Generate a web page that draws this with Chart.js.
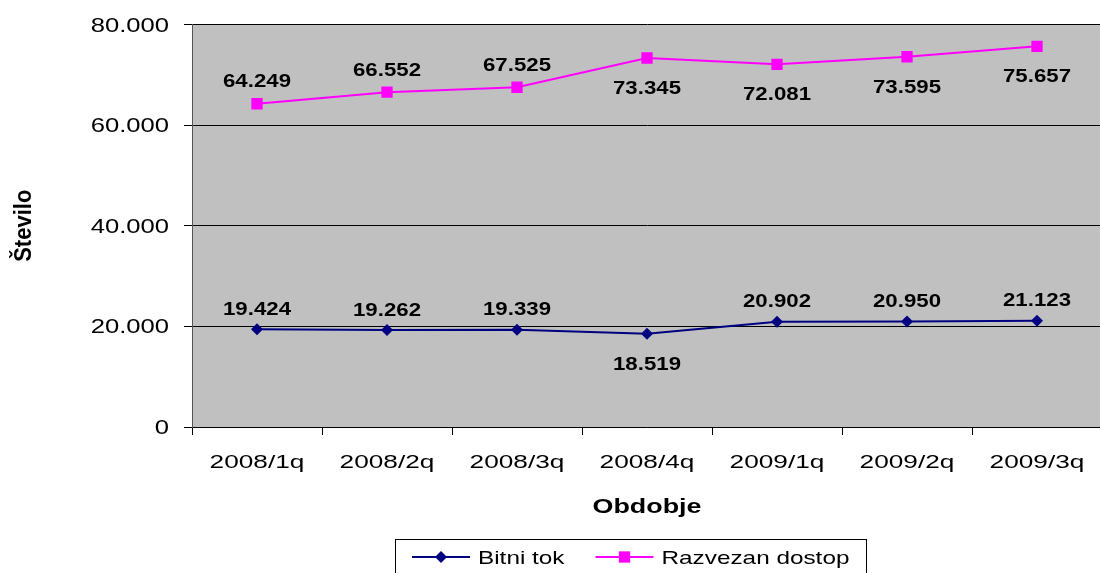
<!DOCTYPE html>
<html>
<head>
<meta charset="utf-8">
<script src="https://cdn.jsdelivr.net/npm/chart.js@4/dist/chart.umd.min.js"></script>
<style>
  html, body { margin: 0; padding: 0; overflow: hidden; background: #fff; }
  #wrap { width: 1110px; height: 573px; }
</style>
</head>
<body>
<div id="wrap"><canvas id="chart"></canvas></div>
<script>
// data
const periods = ['2008/1q', '2008/2q', '2008/3q', '2008/4q', '2009/1q', '2009/2q', '2009/3q'];
const bitniTok = [19424, 19262, 19339, 18519, 20902, 20950, 21123];
const razvezanDostop = [64249, 66552, 67525, 73345, 72081, 73595, 75657];
const yTicks = [0, 20000, 40000, 60000, 80000];
const yTickLabels = ['0', '20.000', '40.000', '60.000', '80.000'];
// where each value label sits relative to its point
const bitniLabelPos = ['above', 'above', 'above', 'below', 'above', 'above', 'above'];
const razvezanLabelPos = ['above', 'above', 'above', 'below', 'below', 'below', 'below'];

const FONT = '"Liberation Sans", Arial, sans-serif';

function fmt(v) {
  return String(v).replace(/\B(?=(\d{3})+(?!\d))/g, '.');
}

// the original export is stretched sideways, so text gets a horizontal scale
function wideText(ctx, text, x, y, sx, align) {
  ctx.save();
  ctx.translate(x, y);
  ctx.scale(sx, 1);
  ctx.textAlign = align;
  ctx.fillText(text, 0, 0);
  ctx.restore();
}

const plotBackground = {
  id: 'plotBackground',
  beforeDraw(chart) {
    const { ctx, chartArea } = chart;
    ctx.save();
    ctx.fillStyle = '#C0C0C0';
    ctx.fillRect(chartArea.left, chartArea.top, chartArea.right - chartArea.left, chartArea.bottom - chartArea.top);
    ctx.restore();
  }
};

function drawMarker(ctx, style, x, y, r, color) {
  ctx.fillStyle = color;
  ctx.beginPath();
  if (style === 'rectRot') {
    ctx.moveTo(x - r, y);
    ctx.lineTo(x, y - r);
    ctx.lineTo(x + r, y);
    ctx.lineTo(x, y + r);
  } else {
    const s = r * Math.SQRT1_2;
    ctx.rect(x - s, y - s, 2 * s, 2 * s);
  }
  ctx.closePath();
  ctx.fill();
}

const texts = {
  id: 'texts',
  afterDraw(chart) {
    const { ctx, chartArea } = chart;
    const xs = chart.scales.x, ys = chart.scales.y;
    ctx.save();
    ctx.fillStyle = '#000';
    ctx.textBaseline = 'alphabetic';

    // x tick labels
    ctx.font = '19px ' + FONT;
    periods.forEach((p, i) => {
      wideText(ctx, p, xs.getPixelForValue(i), 467.5, 1.38, 'center');
    });

    // y tick labels
    ctx.font = '20px ' + FONT;
    yTicks.forEach((v, i) => {
      wideText(ctx, yTickLabels[i], 169, ys.getPixelForValue(v) + 7, 1.28, 'right');
    });

    // value labels
    ctx.font = 'bold 19px ' + FONT;
    const sets = [[0, bitniLabelPos, 14.5], [1, razvezanLabelPos, 16.5]];
    sets.forEach(([di, pos, up]) => {
      const meta = chart.getDatasetMeta(di);
      const vals = chart.data.datasets[di].data;
      meta.data.forEach((pt, i) => {
        const y = pos[i] === 'above' ? pt.y - up : pt.y + 36;
        wideText(ctx, fmt(vals[i]), pt.x, y, 1.17, 'center');
      });
    });

    // axis titles
    ctx.font = 'bold 21px ' + FONT;
    wideText(ctx, 'Obdobje', (chartArea.left + chartArea.right) / 2, 513, 1.28, 'center');
    ctx.save();
    ctx.translate(31, (chartArea.top + chartArea.bottom) / 2);
    ctx.rotate(-Math.PI / 2);
    ctx.scale(1, 1.12);
    ctx.font = 'bold 22px ' + FONT;
    ctx.textAlign = 'center';
    ctx.fillText('Število', 0, 0);
    ctx.restore();

    // legend
    const sx = 1.28;
    ctx.font = '19px ' + FONT;
    const items = chart.data.datasets.map(ds => ({
      label: ds.label, color: ds.borderColor, style: ds.pointStyle, r: ds.pointRadius,
      w: ctx.measureText(ds.label).width * sx
    }));
    const lineW = 58, gapText = 8, gapItem = 31, padX = 17;
    let total = 0;
    items.forEach((it, i) => { total += lineW + gapText + it.w + (i ? gapItem : 0); });
    const boxW = Math.round(total + 2 * padX);
    const boxL = Math.round(630 - boxW / 2);
    ctx.strokeStyle = '#000';
    ctx.lineWidth = 1;
    ctx.strokeRect(boxL + 0.5, 539.5, boxW, 60);
    let x = boxL + padX;
    const ly = 557;
    items.forEach(it => {
      ctx.strokeStyle = it.color;
      ctx.lineWidth = 2;
      ctx.beginPath();
      ctx.moveTo(x, ly);
      ctx.lineTo(x + lineW, ly);
      ctx.stroke();
      drawMarker(ctx, it.style, x + lineW / 2, ly, it.r, it.color);
      ctx.fillStyle = '#000';
      wideText(ctx, it.label, x + lineW + gapText, 563.5, sx, 'left');
      x += lineW + gapText + it.w + gapItem;
    });
    ctx.restore();
  }
};

new Chart(document.getElementById('chart'), {
  type: 'line',
  data: {
    labels: periods,
    datasets: [
      {
        label: 'Bitni tok',
        data: bitniTok,
        borderColor: '#000080',
        backgroundColor: '#000080',
        borderWidth: 2,
        pointStyle: 'rectRot',
        pointRadius: 6,
        pointBorderWidth: 0,
        pointHoverRadius: 6
      },
      {
        label: 'Razvezan dostop',
        data: razvezanDostop,
        borderColor: '#FF00FF',
        backgroundColor: '#FF00FF',
        borderWidth: 2,
        pointStyle: 'rect',
        pointRadius: 8,
        pointBorderWidth: 0,
        pointHoverRadius: 8
      }
    ]
  },
  options: {
    responsive: true,
    maintainAspectRatio: false,
    animation: false,
    layout: { padding: { left: 0, top: 24.5, right: 4, bottom: 0 } },
    plugins: {
      legend: { display: false },
      tooltip: { enabled: false }
    },
    scales: {
      x: {
        offset: true,
        grid: { offset: true, drawOnChartArea: false, drawTicks: true, tickLength: 8, color: '#000' },
        border: { color: '#000', width: 1 },
        ticks: { display: false },
        afterFit(s) { s.height = 146; }
      },
      y: {
        min: 0,
        max: 80000,
        ticks: { display: false, stepSize: 20000 },
        grid: { color: '#000', tickLength: 8, drawTicks: true },
        border: { color: '#555', width: 1 },
        afterFit(s) { s.width = 192; }
      }
    }
  },
  plugins: [plotBackground, texts]
});
</script>
</body>
</html>
